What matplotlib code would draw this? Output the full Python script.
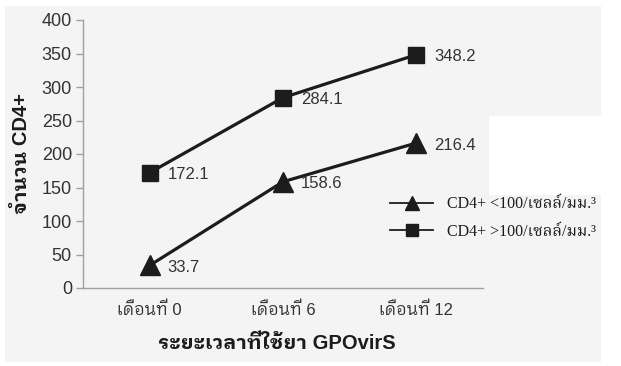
import matplotlib
matplotlib.use("Agg")
import matplotlib.pyplot as plt
from matplotlib.lines import Line2D
from matplotlib.patches import Rectangle

# data
months = ["เดือนที่ 0", "เดือนที่ 6", "เดือนที่ 12"]
cd4_low = [33.7, 158.6, 216.4]     # baseline CD4+ < 100
cd4_high = [172.1, 284.1, 348.2]   # baseline CD4+ > 100
series_labels = ["CD4+ <100/เซลล์/มม.³", "CD4+ >100/เซลล์/มม.³"]
yticks = [0, 50, 100, 150, 200, 250, 300, 350, 400]

SANS = ["Liberation Sans", "IBM Plex Sans Thai Looped", "Noto Sans Thai Looped",
        "DejaVu Sans"]
SERIF = ["Liberation Serif", "Noto Serif Thai", "DejaVu Serif"]
INK = "#1c1c1c"
TEXT = "#333333"
AXIS = "#a0a0a0"
BG = "#f4f4f4"

W, H = 621, 366
fig = plt.figure(figsize=(W / 100, H / 100), dpi=100, facecolor="white")

# scanned-page background
fig.patches.append(Rectangle((5 / W, 1 - 362 / H), 596 / W, 356 / H,
                             transform=fig.transFigure, facecolor=BG,
                             edgecolor="none", zorder=-10))
fig.patches.append(Rectangle((489 / W, 1 - 195 / H), 132 / W, 79 / H,
                             transform=fig.transFigure, facecolor="white",
                             edgecolor="none", zorder=-9))

ax = fig.add_axes([83 / W, 1 - 288 / H, 400 / W, 268 / H])
ax.set_facecolor("none")

x = range(len(months))
ax.plot(x, cd4_low, color=INK, lw=2.3, marker="^", ms=14, mec=INK, mfc=INK,
        zorder=3)
ax.plot(x, cd4_high, color=INK, lw=2.3, marker="s", ms=11.5, mec=INK, mfc=INK,
        zorder=3)

for series in (cd4_low, cd4_high):
    for xi, v in zip(x, series):
        ax.annotate(f"{v:.1f}", (xi, v), xytext=(13, -1.5),
                    textcoords="offset points", ha="left", va="center",
                    fontsize=12, color=TEXT, family=SANS, zorder=4)

ax.set_xlim(-0.5, 2.5)
ax.set_ylim(0, 400)
ax.set_yticks(yticks)
ax.set_xticks(list(x))
ax.set_xticklabels(months, family=SANS, fontsize=12, color=TEXT)
ax.set_yticklabels([str(t) for t in yticks], family=SANS, fontsize=13,
                   color=TEXT)
ax.tick_params(axis="x", length=0, pad=10)
ax.tick_params(axis="y", length=5, width=1, color=AXIS, pad=3)

for side in ("top", "right"):
    ax.spines[side].set_visible(False)
for side in ("left", "bottom"):
    ax.spines[side].set_color(AXIS)
    ax.spines[side].set_linewidth(1)

ax.set_xlabel("ระยะเวลาที่ใช้ยา GPOvirS", family=SANS, fontsize=14.5,
              fontweight="bold", color=INK)
ax.xaxis.set_label_coords(0.485, -0.17)
ax.set_ylabel("จำนวน CD4+", family=SANS, fontsize=14.5, fontweight="bold",
              color=INK)
ax.yaxis.set_label_coords(-0.13, 0.5)

handles = [
    Line2D([], [], color=INK, lw=1.3, marker="^", ms=10, mfc=INK, mec=INK),
    Line2D([], [], color=INK, lw=1.3, marker="s", ms=8.5, mfc=INK, mec=INK),
]
fig.legend(handles, series_labels, loc="center left",
           bbox_to_anchor=(390 / W, 1 - 218 / H), frameon=False,
           borderpad=0, borderaxespad=0, handlelength=2.7, handletextpad=0.85,
           labelspacing=0.7, prop={"family": SERIF, "size": 11.5},
           labelcolor=INK)

fig.savefig("out.png", dpi=100, facecolor="white")
